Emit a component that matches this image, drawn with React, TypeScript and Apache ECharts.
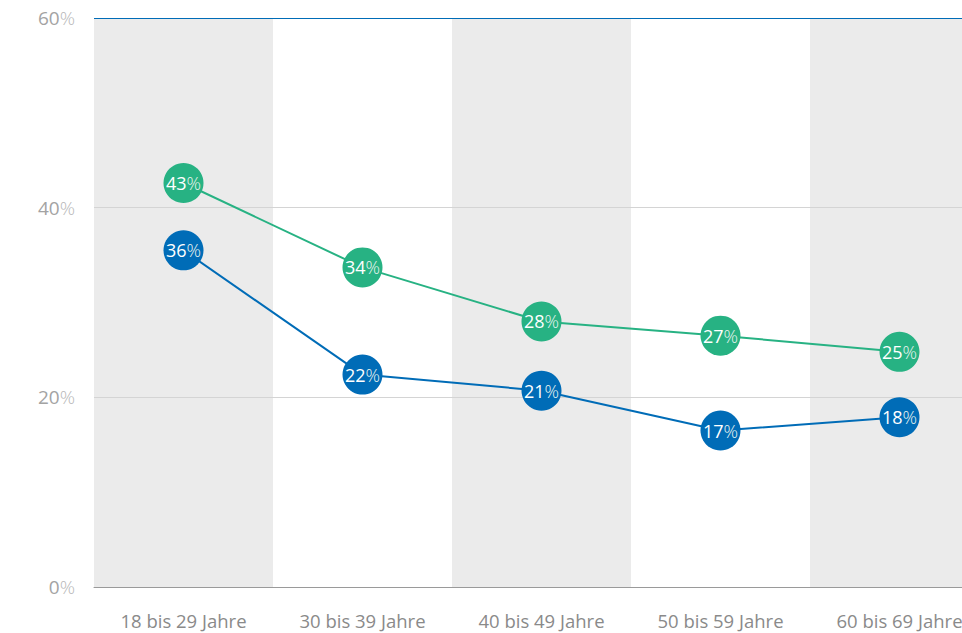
import React, { useEffect, useRef } from "react";
import * as echarts from "echarts";

const categories = ["18 bis 29 Jahre", "30 bis 39 Jahre", "40 bis 49 Jahre", "50 bis 59 Jahre", "60 bis 69 Jahre"];
const greenValues = [42.6, 33.7, 28.0, 26.5, 24.8];
const greenLabels = [43, 34, 28, 27, 25];
const blueValues = [35.5, 22.4, 20.7, 16.5, 17.9];
const blueLabels = [36, 22, 21, 17, 18];
const yTicks = [0, 20, 40, 60];

const GREEN = "#27b283";
const BLUE = "#006cb7";

const makeLabel = (labels: number[]) => ({
  show: true,
  position: "inside" as const,
  formatter: (p: any) => `{n|${labels[p.dataIndex]}}{p|%}`,
  rich: {
    n: { color: "#fff", fontSize: 18, fontFamily: "Open Sans", fontWeight: 400 },
    p: { color: "#e8f4ef", fontSize: 18, fontFamily: "Open Sans", fontWeight: 300 },
  },
});

export default function App() {
  const ref = useRef<HTMLDivElement>(null);
  useEffect(() => {
    const chart = echarts.init(ref.current!, null, { renderer: "svg" });
    chart.setOption({
      animation: false,
      backgroundColor: "#fff",
      grid: { left: 94, top: 18, width: 895, height: 569 },
      xAxis: {
        type: "category",
        data: categories,
        boundaryGap: true,
        z: 0,
        axisLine: { show: true, lineStyle: { color: "#9a9a9a", width: 1 } },
        axisTick: { show: false },
        axisLabel: { color: "#8a8a8a", fontSize: 18.5, fontFamily: "Open Sans", margin: 24 },
        splitArea: { show: true, areaStyle: { color: ["#ebebeb", "#ffffff"] } },
      },
      yAxis: {
        type: "value",
        min: yTicks[0],
        max: yTicks[yTicks.length - 1],
        interval: 20,
        z: 1,
        axisLine: { show: false },
        axisTick: { show: false },
        axisLabel: {
          margin: 19,
          formatter: (v: number) => `{n|${v}}{p|%}`,
          rich: {
            n: { color: "#a3a3a3", fontSize: 19, fontFamily: "Open Sans" },
            p: { color: "#b8b8b8", fontSize: 19, fontFamily: "Open Sans", fontWeight: 300 },
          },
        },
        splitLine: { show: true, lineStyle: { color: ["#9a9a9a", "#d4d4d4", "#d4d4d4", BLUE], width: 1 } },
      },
      series: [
        {
          type: "line",
          data: greenValues,
          symbol: "circle",
          symbolSize: 40,
          lineStyle: { color: GREEN, width: 2 },
          itemStyle: { color: GREEN },
          label: makeLabel(greenLabels),
          z: 3,
        },
        {
          type: "line",
          data: blueValues,
          symbol: "circle",
          symbolSize: 40,
          lineStyle: { color: BLUE, width: 2 },
          itemStyle: { color: BLUE },
          label: makeLabel(blueLabels),
          z: 4,
        },
      ],
    });
    return () => chart.dispose();
  }, []);
  return (
    <div style={{ width: 962, height: 633, position: "absolute", left: 0, top: 0, overflow: "hidden" }}>
      <div ref={ref} style={{ width: 990, height: 633 }} />
    </div>
  );
}
